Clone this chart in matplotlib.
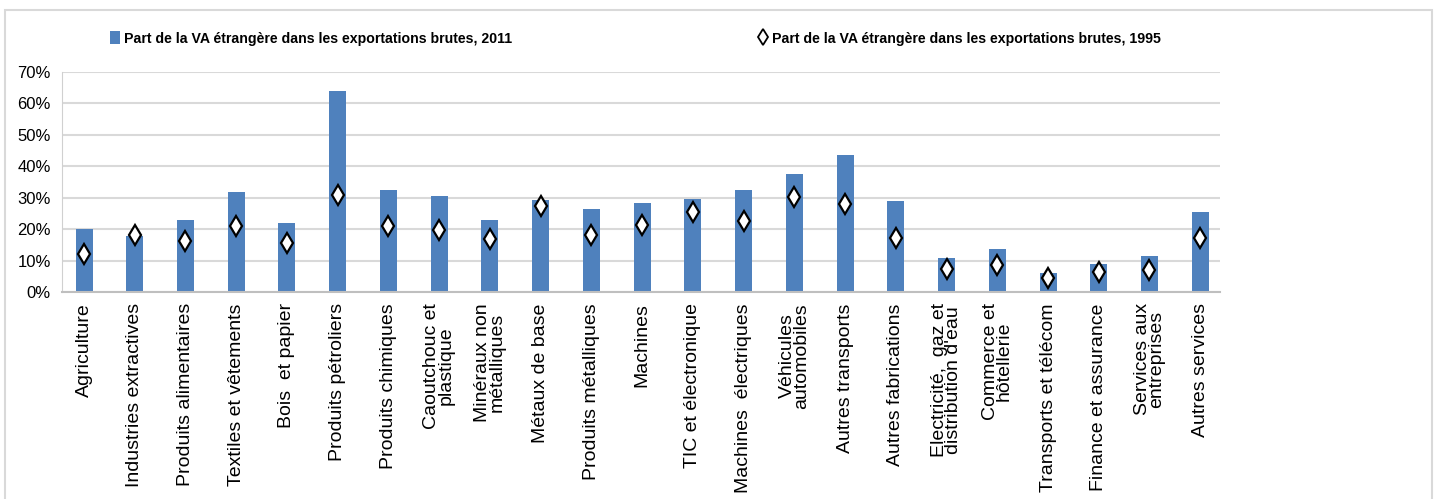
import matplotlib.pyplot as plt
from matplotlib.patches import Rectangle, Patch
from matplotlib.ticker import PercentFormatter
from matplotlib.lines import Line2D
import numpy as np

sectors = [
    "Agriculture", "Industries extractives", "Produits alimentaires",
    "Textiles et vêtements", "Bois  et papier", "Produits pétroliers",
    "Produits chimiques", "Caoutchouc et\nplastique", "Minéraux non\nmétalliques",
    "Métaux de base", "Produits métalliques", "Machines",
    "TIC et électronique", "Machines  électriques", "Véhicules\nautomobiles",
    "Autres transports", "Autres fabrications", "Electricité,  gaz et\ndistribution d'eau",
    "Commerce et\nhôtellerie", "Transports et télécom", "Finance et assurance",
    "Services aux\nentreprises", "Autres services",
]
share_2011 = [20.0, 17.8, 23.0, 31.7, 21.9, 64.0, 32.4, 30.6, 23.0, 29.4, 26.5, 28.3,
              29.5, 32.4, 37.7, 43.5, 28.9, 10.7, 13.7, 6.1, 8.9, 11.4, 25.5]
share_1995 = [12.2, 18.0, 16.2, 20.9, 15.6, 30.8, 20.9, 19.6, 16.8, 27.3, 18.0, 21.4,
              25.5, 22.6, 30.2, 27.9, 17.3, 7.4, 8.5, 4.6, 6.3, 7.0, 17.3]
label_2011 = "Part de la VA étrangère dans les exportations brutes, 2011"
label_1995 = "Part de la VA étrangère dans les exportations brutes, 1995"

plt.rcParams['font.family'] = ['Liberation Sans', 'DejaVu Sans']

fig = plt.figure(figsize=(14.37, 4.99), dpi=100)
ax = fig.add_axes([62 / 1437, 0.4148, 1158 / 1437, 0.4409])

x = np.arange(len(sectors))
ax.bar(x, share_2011, width=0.335, color='#4F81BD', zorder=2)
ax.plot(x, share_1995, linestyle='none', marker='d', markersize=10,
        markerfacecolor='white', markeredgecolor='black', markeredgewidth=1.6, zorder=3)

ax.set_xlim(-0.434, 22.39)
ax.set_ylim(0, 70)
ax.set_yticks(range(0, 71, 10))
ax.yaxis.set_major_formatter(PercentFormatter(decimals=0))
ax.grid(axis='y', color='#d9d9d9', linewidth=1.5, zorder=0)
ax.set_axisbelow(True)
for s in ['top', 'right']:
    ax.spines[s].set_visible(False)
ax.spines['left'].set_color('#d0d0d0')
ax.spines['bottom'].set_color('#bfbfbf')
ax.spines['bottom'].set_linewidth(1.5)
ax.tick_params(axis='both', length=0)
ax.tick_params(axis='y', pad=8, labelsize=12)

ax.set_xticks(x)
ax.set_xticklabels(sectors, rotation=90, fontsize=14, linespacing=0.8,
                   va='top', ha='center')
ax.tick_params(axis='x', pad=8)

h2011 = Patch(facecolor='#4F81BD', edgecolor='none')
h1995 = Line2D([], [], linestyle='none', marker='d', markersize=8,
               markerfacecolor='white', markeredgecolor='black', markeredgewidth=1.3)
prop = {'weight': 'bold', 'size': 10.2}
for h, lab, xa in [(h2011, label_2011, 110 / 1437), (h1995, label_1995, 758 / 1437)]:
    leg = fig.legend([h], [lab], loc='center left', bbox_to_anchor=(xa, 0.923),
                     frameon=False, prop=prop, borderpad=0, borderaxespad=0,
                     handlelength=0.7, handleheight=1.0, handletextpad=0.3)

fig.patches.append(Rectangle((5 / 1437, -0.01), 1427 / 1437, 0.99, transform=fig.transFigure,
                             fill=False, edgecolor='#d9d9d9', linewidth=1.5))

fig.savefig('out.png', dpi=100)
